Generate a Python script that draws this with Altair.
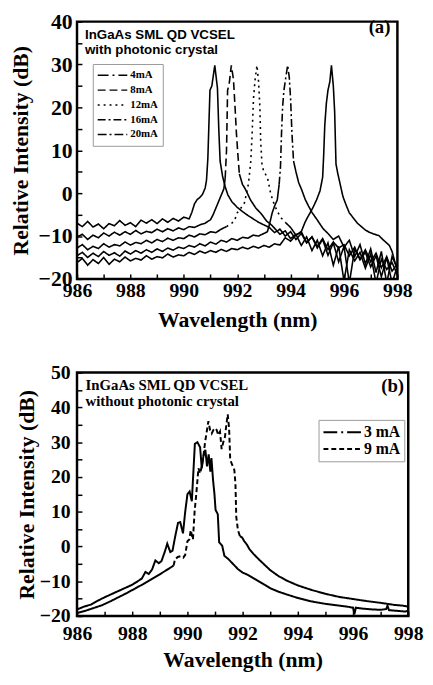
import altair as alt
import pandas as pd

SERIF = "Liberation Serif"
SANS = "Liberation Sans"

# ---------------- panel (a) data ----------------
GRID = [986.0, 986.2, 986.4, 986.6, 986.8, 987.0, 987.2, 987.4, 987.6, 987.8,
        988.0, 988.2, 988.4, 988.6, 988.8, 989.0, 989.2, 989.4, 989.6, 989.8,
        990.0, 990.2, 990.4, 990.6, 990.8, 991.0, 991.2, 991.4, 991.6, 991.8,
        992.0, 992.2, 992.4, 992.6, 992.8, 993.0, 993.2, 993.4, 993.6, 993.8,
        994.0, 994.2, 994.4, 994.6, 994.8, 995.0, 995.2, 995.4, 995.6, 995.8,
        996.0, 996.2, 996.4, 996.6, 996.8, 997.0, 997.2, 997.4, 997.6, 997.8,
        998.0]

CURRENTS_A = ["4mA", "8mA", "12mA", "16mA", "20mA"]

A1_BASE = [-7.0, -7.8, -6.6, -7.9, -7.2, -8.3, -7.1, -7.6, -6.4, -7.5, -6.9, -7.8, -6.3, -7.0,
           -6.2, -7.1, -6.0, -6.8, -5.9, -6.5, -5.6] + [None] * 15 + \
          [-8.0, -9.2, -8.4, -10.0, -9.0, -10.8, -9.4, -11.6, -10.2, -12.4, -10.6, -13.2, -11.4,
           -12.8, -12.0, -14.6, -12.6, -15.4, -13.2, -16.0, -14.0, -17.4, -14.8, -18.2, -16.5]
A1_PEAK_X = [990.2, 990.3, 990.4, 990.5, 990.6, 990.7, 990.8, 990.85, 990.9, 990.95, 990.98,
             991.05, 991.16, 991.26, 991.31, 991.36, 991.45, 991.55, 991.65, 991.8, 992.0,
             992.2, 992.4, 992.6, 992.8, 993.0]
A1_PEAK_Y = [-6.0, -4.5, -2.5, -1.5, -1.0, -0.3, 1.2, 3.0, 8.0, 18.0, 24.0, 25.0, 29.8, 24.5,
             15.0, 7.5, 4.0, 1.5, -0.4, -2.0, -3.3, -4.3, -5.2, -6.0, -6.8, -7.4]

A2_BASE = [-10.2, -9.6, -10.8, -9.8, -10.4, -9.3, -10.0, -9.1, -9.8, -9.0, -9.6, -8.7, -9.5,
           -8.9, -9.2, -8.4, -9.0, -8.3, -8.8, -8.1, -8.5, -7.8, -8.0, -7.4, -7.0] + [None] * 12 + \
          [-8.2, -9.6, -8.8, -10.6, -9.6, -12.2, -10.2, -13.4, -11.0, -14.6, -11.6, -16.8, -12.4,
           -20.5, -13.2, -15.8, -13.8, -17.5, -14.2, -21.0, -15.4, -17.8, -16.2, -19.0]
A2_PEAK_X = [991.0, 991.1, 991.2, 991.3, 991.4, 991.5, 991.55, 991.6, 991.64, 991.7, 991.78,
             991.86, 991.92, 991.97, 992.02, 992.08, 992.2, 992.3, 992.5, 992.7, 992.9, 993.1,
             993.3]
A2_PEAK_Y = [-6.2, -5.0, -3.5, -2.0, -0.5, 1.0, 3.5, 10.0, 24.0, 25.5, 29.8, 26.5, 20.0, 14.0,
             9.5, 4.5, 2.0, 1.0, -1.6, -3.5, -4.8, -6.5, -7.5]

A3_BASE = [-12.8, -12.0, -13.2, -12.4, -12.9, -11.8, -12.6, -12.0, -12.3, -11.4, -12.1, -11.5,
           -11.8, -11.0, -11.6, -10.8, -11.3, -10.5, -11.0, -10.4, -10.6, -9.8, -10.2, -9.5,
           -9.7, -9.0, -9.2, -8.4, -7.8, -7.0] + [None] * 10 + \
          [-8.0, -9.8, -9.0, -11.5, -10.2, -12.8, -10.8, -14.5, -11.6, -16.0, -12.4, -21.0,
           -13.0, -15.5, -13.8, -17.2, -14.6, -19.5, -15.0, -21.0, -17.0]
A3_PEAK_X = [991.9, 992.0, 992.1, 992.2, 992.27, 992.35, 992.42, 992.47, 992.51, 992.56, 992.61,
             992.67, 992.74, 992.8, 992.85, 992.88, 992.93, 993.0, 993.13, 993.25, 993.35,
             993.45, 993.55, 993.65, 993.8]
A3_PEAK_Y = [-6.4, -4.6, -3.8, -3.0, -2.3, 0.0, 2.2, 5.0, 7.5, 14.0, 22.0, 26.5, 29.8, 26.0,
             20.0, 12.0, 6.5, 5.0, 3.7, 0.0, -2.0, -3.5, -4.8, -5.8, -6.8]

A4_BASE = [-14.6, -13.8, -15.0, -14.0, -14.8, -13.6, -14.5, -13.9, -14.7, -13.5, -14.2, -13.4,
           -14.0, -13.2, -13.8, -13.0, -13.6, -12.8, -13.3, -12.6, -12.9, -12.2, -12.6, -11.8,
           -12.3, -11.4, -11.9, -11.0, -11.4, -10.6, -11.0, -10.3, -10.5, -9.8, -10.0, -9.4] + \
          [None] * 11 + \
          [-9.4, -10.8, -10.0, -12.6, -11.0, -14.8, -12.0, -16.5, -13.0, -18.5, -13.6, -21.0,
           -14.8, -17.5]
A4_PEAK_X = [993.13, 993.22, 993.31, 993.4, 993.5, 993.57, 993.62, 993.66, 993.7, 993.75,
             993.82, 993.89, 993.95, 994.0, 994.05, 994.11, 994.2, 994.3, 994.42, 994.55,
             994.67, 994.8, 994.97, 995.1, 995.22]
A4_PEAK_Y = [-9.0, -7.0, -4.6, -3.0, -1.6, 2.0, 6.0, 14.0, 20.0, 24.0, 27.0, 29.8, 27.0, 22.0,
             14.0, 7.5, 5.0, 2.5, 0.7, -1.5, -3.0, -4.5, -6.0, -7.2, -8.3]

A5_BASE = [-16.2, -15.2, -16.8, -15.5, -16.4, -15.0, -16.6, -15.4, -16.0, -14.9, -15.8, -15.2,
           -15.6, -14.6, -15.4, -14.8, -15.1, -14.2, -14.9, -14.4, -14.6, -13.8, -14.3, -13.5,
           -14.0, -13.4, -13.8, -13.1, -13.6, -12.9, -13.2, -12.6, -13.0, -12.4, -12.8, -12.2,
           -12.6, -11.8, -12.1, -10.4, -11.2, -9.8, -9.0] + [None] * 18
A5_PEAK_X = [994.54, 994.62, 994.73, 994.85, 994.97, 995.1, 995.2, 995.24, 995.28, 995.34,
             995.4, 995.47, 995.53, 995.6, 995.65, 995.7, 995.77, 995.86, 995.96, 996.08,
             996.2, 996.35, 996.5, 996.65, 996.8, 996.94, 997.1, 997.31, 997.45, 997.56,
             997.7, 997.8, 997.93, 998.0]
A5_PEAK_Y = [-6.8, -5.8, -4.6, -3.2, -1.6, 0.5, 3.7, 9.0, 15.8, 21.0, 24.0, 26.0, 29.8, 25.0,
             19.0, 6.8, 4.5, 2.0, -0.8, -2.8, -4.6, -5.8, -7.0, -7.8, -8.6, -9.1, -9.5, -9.9,
             -10.8, -11.4, -12.2, -13.6, -16.6, -17.5]

STYLED_A = {"4mA": None, "8mA": (991.55, 992.1), "12mA": (991.55, 993.85),
            "16mA": (993.56, 994.15), "20mA": None}

# ---------------- panel (b) data ----------------
CURRENTS_B = ["3 mA", "9 mA"]
B1_X = [986.0, 986.25, 986.5, 986.75, 987.0, 987.25, 987.5, 987.75, 988.0, 988.2,
        988.35, 988.48, 988.6, 988.72, 988.84, 988.96, 989.06, 989.18, 989.27, 989.38,
        989.46, 989.56, 989.66, 989.74, 989.84, 989.92, 990.0, 990.08, 990.16, 990.22,
        990.27, 990.36, 990.46, 990.52, 990.58, 990.65, 990.71, 990.77, 990.83, 990.87,
        990.93, 990.98, 991.02, 991.1, 991.15, 991.26, 991.34, 991.48, 991.65, 991.83,
        992.0, 992.2, 992.5, 992.8, 993.0, 993.3, 993.6, 994.0, 994.5, 995.0,
        995.5, 995.8, 996.0, 996.05, 996.1, 996.4, 996.7, 997.0, 997.2, 997.25,
        997.3, 997.6, 997.9, 998.0]
B1_Y = [-18.1, -17.3, -16.7, -15.6, -14.6, -13.7, -12.8, -11.9, -11.0, -10.0,
        -9.2, -7.3, -7.9, -6.6, -4.0, -4.8, -4.2, -1.5, 0.8, -1.6,
        -1.2, 3.0, 6.8, 7.0, 3.8, 10.0, 15.0, 15.8, 13.0, 22.0,
        29.5, 30.0, 28.5, 22.5, 26.0, 27.8, 23.0, 26.5, 21.5, 25.4,
        19.0, 15.0, 10.5, 9.3, 1.2, 0.2, -2.7, -3.6, -5.0, -6.5,
        -7.5, -8.2, -9.6, -11.0, -12.0, -13.0, -13.8, -14.8, -15.8, -16.5,
        -17.0, -17.3, -17.6, -19.5, -17.6, -17.9, -18.1, -18.2, -18.0, -17.0,
        -18.3, -18.5, -18.7, -18.4]
B2_X = [986.0, 986.3, 986.6, 986.9, 987.2, 987.5, 987.8, 988.1, 988.4, 988.7, 989.0, 989.3,
        989.5, 989.55, 989.65, 989.75, 989.85, 989.92, 990.0, 990.07, 990.12, 990.17, 990.2,
        990.26, 990.32, 990.4, 990.46, 990.52, 990.58, 990.64, 990.7, 990.76, 990.82,
        990.88, 990.94, 991.0, 991.06, 991.12, 991.18, 991.24, 991.3, 991.36, 991.41,
        991.46, 991.51, 991.55, 991.62, 991.7, 991.74, 991.77, 991.83, 991.9, 991.98,
        992.06, 992.15, 992.25, 992.4, 992.6, 992.8, 993.0, 993.3, 993.6, 994.0,
        994.5, 995.0, 995.5, 996.0, 996.5, 997.0, 997.5, 997.8, 998.0]
B2_Y = [-19.1, -18.5, -17.7, -16.9, -15.8, -14.6, -13.4, -12.1, -10.8, -9.4, -8.0, -6.5,
        -5.5, -3.7, -3.0, -2.8, -3.2, -2.4, 1.5, 2.0, 4.7, 3.0, 2.0,
        10.0, 15.0, 22.5, 21.0, 23.0, 26.0, 30.0, 33.0, 36.0, 33.5,
        32.5, 33.5, 34.0, 33.5, 32.0, 33.0, 28.0, 30.0, 31.5, 35.0,
        38.0, 34.0, 25.0, 23.5, 22.0, 18.0, 8.5, 4.7, 3.0, 2.6,
        1.5, 0.6, -0.8, -2.2, -3.8, -5.3, -6.8, -8.5, -9.8, -11.2,
        -12.5, -13.6, -14.5, -15.1, -15.7, -16.2, -16.8, -17.0, -17.3]
STYLED_B = {"3 mA": None, "9 mA": (989.5, 991.9)}

X_TICKS = [986, 987, 988, 989, 990, 991, 992, 993, 994, 995, 996, 997, 998]
YA_TICKS = [-20, -15, -10, -5, 0, 5, 10, 15, 20, 25, 30, 35, 40]
YB_TICKS = [-20, -15, -10, -5, 0, 5, 10, 15, 20, 25, 30, 35, 40, 45, 50]


def segments(name, pts, rng):
    """Split one spectrum into runs drawn solid or with the series' broken style."""
    pts = sorted(pts)
    rows, seg, prev = [], 0, None
    for i in range(len(pts) - 1):
        (x0, y0), (x1, y1) = pts[i], pts[i + 1]
        styled = rng is not None and rng[0] <= x0 and x1 <= rng[1]
        style = name if styled else "solid"
        if style != prev:
            seg += 1
            rows.append(dict(x=x0, y=y0, style=style, seg=f"{name}-{seg}"))
            prev = style
        rows.append(dict(x=x1, y=y1, style=style, seg=f"{name}-{seg}"))
    return rows


rows_a = []
for name, base, px, py in [("4mA", A1_BASE, A1_PEAK_X, A1_PEAK_Y),
                           ("8mA", A2_BASE, A2_PEAK_X, A2_PEAK_Y),
                           ("12mA", A3_BASE, A3_PEAK_X, A3_PEAK_Y),
                           ("16mA", A4_BASE, A4_PEAK_X, A4_PEAK_Y),
                           ("20mA", A5_BASE, A5_PEAK_X, A5_PEAK_Y)]:
    pts = [(g, v) for g, v in zip(GRID, base) if v is not None] + list(zip(px, py))
    rows_a += segments(name, pts, STYLED_A[name])
df_a = pd.DataFrame(rows_a)

rows_b = []
for name, xs, ys in [("3 mA", B1_X, B1_Y), ("9 mA", B2_X, B2_Y)]:
    rows_b += segments(name, list(zip(xs, ys)), STYLED_B[name])
df_b = pd.DataFrame(rows_b)

ANNOT_A = pd.DataFrame({"x": [986.3, 986.3], "y": [36.0, 32.5],
                        "t": ["InGaAs SML QD VCSEL", "with photonic crystal"]})
TAG_A = pd.DataFrame({"x": [997.74], "y": [37.3], "t": ["(a)"]})
ANNOT_B = pd.DataFrame({"x": [986.31, 986.31], "y": [45.0, 40.4],
                        "t": ["InGaAs SML QD VCSEL", "without photonic crystal"]})
TAG_B = pd.DataFrame({"x": [997.85], "y": [44.3], "t": ["(b)"]})


def xaxis(lp, tp):
    return alt.Axis(values=X_TICKS, labelExpr="datum.value % 2 == 0 ? datum.label : ''",
                    labelFontSize={"condition": {"test": "datum.value % 2 != 0", "value": 1},
                                   "value": 20},
                    title="Wavelength (nm)", grid=False, domain=False, offset=-5, tickSize=5,
                    tickWidth=1.5, tickColor="black", labelFont=SERIF,
                    labelFontWeight="bold", labelColor="black", labelPadding=lp,
                    labelFlush=False, labelOverlap=False, titleFont=SERIF,
                    titleFontSize=22, titleFontWeight="bold", titleColor="black",
                    titlePadding=tp)


def yaxis(ticks, size, lp, tp):
    return alt.Axis(values=ticks, labelExpr="datum.value % 10 == 0 ? datum.label : ''",
                    labelFontSize={"condition": {"test": "datum.value % 10 != 0", "value": 1},
                                   "value": size},
                    title="Relative Intensity (dB)", grid=False, domain=False, offset=-5,
                    tickSize=5, tickWidth=1.5, tickColor="black", labelFont=SERIF,
                    labelFontWeight="bold", labelColor="black",
                    labelPadding=lp, labelFlush=False, labelOverlap=False,
                    titleFont=SERIF, titleFontSize=22, titleFontWeight="bold",
                    titleColor="black", titlePadding=tp)


dash_a_domain = CURRENTS_A + ["solid"]
dash_a_range = [[11, 4, 2, 4], [8, 4], [2, 4], [8, 3, 2, 3], [9, 3, 2, 3], [1, 0]]
dash_b_domain = CURRENTS_B + ["solid"]
dash_b_range = [[14, 4, 2, 4], [5, 3], [1, 0]]

xa = alt.X("x:Q", scale=alt.Scale(domain=[986, 998], nice=False, zero=False), axis=xaxis(2, 9))
ya = alt.Y("y:Q", scale=alt.Scale(domain=[-20, 40], nice=False, zero=False),
           axis=yaxis(YA_TICKS, 22, 5, 6))

lines_a = alt.Chart(df_a).mark_line(clip=True, color="black", strokeWidth=1.6).encode(
    x=xa, y=ya,
    strokeDash=alt.StrokeDash(
        "style:N", scale=alt.Scale(domain=dash_a_domain, range=dash_a_range),
        legend=alt.Legend(values=CURRENTS_A, title=None, orient="none", legendX=16, legendY=43,
                          symbolType="stroke", symbolSize=900, symbolStrokeWidth=1.5,
                          symbolStrokeColor="black", clipHeight=15, labelFont=SERIF,
                          labelFontSize=11, labelFontWeight="bold", labelColor="black",
                          labelOffset=2, strokeColor="#9a9a9a", fillColor="white",
                          padding=4, rowPadding=0)),
    detail="seg:N",
)
annot_a = alt.Chart(ANNOT_A).mark_text(align="left", baseline="alphabetic", font=SANS,
                                       fontSize=13.5, fontWeight="bold", color="black").encode(
    x=xa, y=ya, text="t:N")
tag_a = alt.Chart(TAG_A).mark_text(align="right", baseline="alphabetic", font=SERIF,
                                   fontSize=19, fontWeight="bold", color="black").encode(
    x=xa, y=ya, text="t:N")
panel_a = alt.layer(lines_a, annot_a, tag_a).properties(width=325, height=261)

xb = alt.X("x:Q", scale=alt.Scale(domain=[986, 998], nice=False, zero=False), axis=xaxis(8, 6))
yb = alt.Y("y:Q", scale=alt.Scale(domain=[-20, 50], nice=False, zero=False),
           axis=yaxis(YB_TICKS, 20, 7, 1))
lines_b = alt.Chart(df_b).mark_line(clip=True, color="black", strokeWidth=2).encode(
    x=xb, y=yb,
    strokeDash=alt.StrokeDash(
        "style:N", scale=alt.Scale(domain=dash_b_domain, range=dash_b_range),
        legend=alt.Legend(values=CURRENTS_B, title=None, orient="none", legendX=245, legendY=48,
                          symbolType="stroke", symbolSize=1444, symbolStrokeWidth=2,
                          symbolStrokeColor="black", clipHeight=17, labelFont=SERIF,
                          labelFontSize=16, labelFontWeight="bold", labelColor="black",
                          labelOffset=2, strokeColor="#9a9a9a", fillColor="white",
                          padding=4, rowPadding=0)),
    detail="seg:N",
)
annot_b = alt.Chart(ANNOT_B).mark_text(align="left", baseline="alphabetic", font=SERIF,
                                       fontSize=15, fontWeight="bold", color="black").encode(
    x=xb, y=yb, text="t:N")
tag_b = alt.Chart(TAG_B).mark_text(align="right", baseline="alphabetic", font=SERIF,
                                   fontSize=19, fontWeight="bold", color="black").encode(
    x=xb, y=yb, text="t:N")
panel_b = alt.layer(lines_b, annot_b, tag_b).properties(width=336, height=247)

chart = alt.concat(panel_a, panel_b, columns=1, align="none", spacing=29).resolve_scale(
    strokeDash="independent", x="independent", y="independent"
).resolve_legend(strokeDash="independent").properties(
    padding={"left": 0, "top": -4, "right": 0, "bottom": 0},
).configure_view(stroke="black", strokeWidth=2.5)

chart.save("out.html", embed_options={"renderer": "svg", "actions": False})
